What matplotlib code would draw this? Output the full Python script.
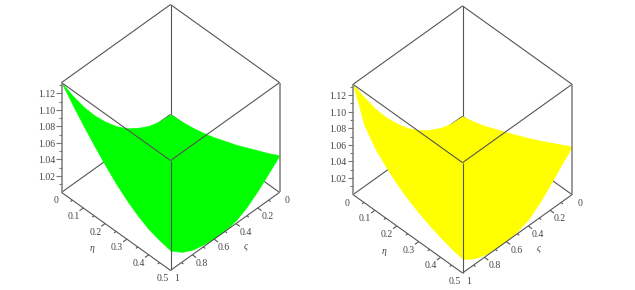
import numpy as np
import matplotlib
matplotlib.use('Agg')
from matplotlib import pyplot as plt
from mpl_toolkits.mplot3d import proj3d
from mpl_toolkits.mplot3d.art3d import Poly3DCollection

s_grid = [0, 0.1, 0.2, 0.3, 0.4, 0.5, 0.6, 0.7, 0.8, 0.9, 1]
eta_grid = [0, 0.05, 0.1, 0.15, 0.2, 0.25, 0.3, 0.35, 0.4, 0.45, 0.5]

green_eta0 = [1.000, 1.001, 1.005, 1.012, 1.021, 1.033, 1.048, 1.065, 1.085, 1.108, 1.133]
green_eta5 = [1.045, 1.033, 1.021, 1.011, 1.004, 1.001, 1.001, 1.003, 1.006, 1.013, 1.024]
green_s0 = [1.000, 1.001, 1.003, 1.006, 1.010, 1.015, 1.020, 1.026, 1.032, 1.038, 1.045]
green_s1 = [1.133, 1.116, 1.100, 1.085, 1.071, 1.058, 1.047, 1.038, 1.031, 1.027, 1.024]

yellow_eta0 = [1.000, 1.001, 1.005, 1.012, 1.021, 1.033, 1.048, 1.065, 1.085, 1.108, 1.133]
yellow_eta5 = [1.058, 1.045, 1.031, 1.018, 1.008, 1.003, 1.001, 1.001, 1.003, 1.008, 1.017]
yellow_s0 = [1.000, 1.003, 1.0075, 1.013, 1.0185, 1.0245, 1.0305, 1.037, 1.044, 1.051, 1.058]
yellow_s1 = [1.133, 1.094, 1.075, 1.062, 1.051, 1.042, 1.035, 1.029, 1.024, 1.020, 1.017]

z_major = [1.02, 1.04, 1.06, 1.08, 1.10, 1.12]
z_minor = [1.01, 1.03, 1.05, 1.07, 1.09, 1.11, 1.13]
eta_major = [0.1, 0.2, 0.3, 0.4]
eta_minor = [0.05, 0.15, 0.25, 0.35, 0.45]
s_major = [0.2, 0.4, 0.6, 0.8]
s_minor = [0.1, 0.3, 0.5, 0.7, 0.9]

Z0, Z1 = 1.0, 1.133
LINE = '#555555'
TEXT = '#444444'
plt.rcParams['font.family'] = ['Liberation Serif', 'DejaVu Serif']

fig = plt.figure(figsize=(6.35, 2.9), dpi=100)


def box_line(ax, s, eta, z, color=LINE, lw=0.8, zorder=3):
    ax.plot(s, eta, z, color=color, lw=lw, zorder=zorder, solid_capstyle='butt', clip_on=False)


def label(ax, s, eta, z, txt, ha='center', style='normal', dx=0):
    # put the text where the 3d point lands on the figure
    x, y, _ = proj3d.proj_transform(s, eta, z, ax.get_proj())
    px = ax.transData.transform((x, y))
    fig.text((px[0]+dx)/635, (px[1]-1.5)/290, txt, fontsize=7, color=TEXT, ha=ha, va='center', style=style)


def fit_cube(ax, cx, cy, width):
    # scale the square axes so the cube's left-right span is width pixels
    side = 200.
    ax.set_position([(cx-side/2)/635, (290-cy-side/2)/290, side/635, side/290])
    M = ax.get_proj()
    xl, yl, _ = proj3d.proj_transform(1, 0, Z0, M)
    xr, yr, _ = proj3d.proj_transform(0, 0.5, Z0, M)
    px = ax.transData.transform([[xl, yl], [xr, yr]])
    side = side*width/(px[1, 0]-px[0, 0])
    ax.set_position([(cx-side/2)/635, (290-cy-side/2)/290, side/635, side/290])


def panel(cx, cy, width, color, z_eta0, z_s1, z_eta5, z_s0):
    ax = fig.add_axes([0, 0, 1, 1], projection='3d', computed_zorder=False)
    ax.patch.set_alpha(0)
    ax.set_proj_type('ortho')
    ax.view_init(elev=45.7, azim=45)
    ax.set_box_aspect((1, 1, 1.02))
    ax.set_xlim(0, 1)
    ax.set_ylim(0, 0.5)
    ax.set_zlim(Z0, Z1)
    ax.set_axis_off()
    fit_cube(ax, cx, cy, width)

    # back lines go under the surface
    box_line(ax, [0, 0], [0, 0], [Z0, Z1], zorder=1)
    box_line(ax, [0, 1], [0, 0], [Z0, Z0], zorder=1)
    box_line(ax, [0, 0], [0, 0.5], [Z0, Z0], zorder=1)

    # flat colour, so only the outline of the surface shows
    s = np.array(s_grid)
    eta = np.array(eta_grid)
    xs = np.concatenate([s, np.ones(len(eta)), s[::-1], np.zeros(len(eta))])
    ys = np.concatenate([np.zeros(len(s)), eta, np.full(len(s), 0.5), eta[::-1]])
    zs = np.concatenate([z_eta0, z_s1, z_eta5[::-1], z_s0[::-1]])
    poly = Poly3DCollection([list(zip(xs, ys, zs))], facecolors=color, edgecolors=color,
                            linewidths=0.4, zorder=2)
    ax.add_collection3d(poly, autolim=False)

    # front and top edges on top of it
    box_line(ax, [1, 1], [0, 0.5], [Z1, Z1])
    box_line(ax, [1, 0], [0.5, 0.5], [Z1, Z1])
    box_line(ax, [0, 1], [0, 0], [Z1, Z1])
    box_line(ax, [0, 0], [0, 0.5], [Z1, Z1])
    box_line(ax, [1, 1], [0.5, 0.5], [Z0, Z1])
    box_line(ax, [1, 1], [0, 0.5], [Z0, Z0])
    box_line(ax, [1, 0], [0.5, 0.5], [Z0, Z0])
    box_line(ax, [1, 1], [0, 0], [Z0, Z1], color='#888888', lw=1.2)
    box_line(ax, [0, 0], [0.5, 0.5], [Z0, Z1], color='#888888', lw=1.2)

    # z ticks point straight left on screen
    for z in z_major:
        box_line(ax, [1, 1.024], [0, -0.012], [z, z], color='#777777')
        label(ax, 1.03, -0.015, z, '%.2f' % z, ha='right')
    for z in z_minor:
        box_line(ax, [1, 1.012], [0, -0.006], [z, z], color='#777777')

    for e in eta_major:
        box_line(ax, [1, 1.035], [e, e], [Z0, Z0])
    for e in eta_minor:
        box_line(ax, [1, 1.018], [e, e], [Z0, Z0])
    for v in s_major:
        box_line(ax, [v, v], [0.5, 0.5175], [Z0, Z0])
    for v in s_minor:
        box_line(ax, [v, v], [0.5, 0.509], [Z0, Z0])

    label(ax, 1.09, 0, Z0, '0', dx=4)
    for e in eta_major:
        label(ax, 1.09, e, Z0, '%g' % e)
    label(ax, 1.09, 0.5, Z0, '0.5', dx=2)
    label(ax, 0, 0.545, Z0, '0', dx=-2)
    for v in s_major:
        label(ax, v, 0.545, Z0, '%g' % v)
    label(ax, 1, 0.545, Z0, '1', dx=-4)
    label(ax, 1.21, 0.2475, Z0, '\u03b7', style='italic')
    label(ax, 0.484, 0.588, Z0, '\u03c2', style='italic')


panel(167, 141, 218, '#00ff00', green_eta0, green_s1, green_eta5, green_s0)
panel(459, 143, 219, '#ffff00', yellow_eta0, yellow_s1, yellow_eta5, yellow_s0)

fig.savefig('out.png', dpi=100)
